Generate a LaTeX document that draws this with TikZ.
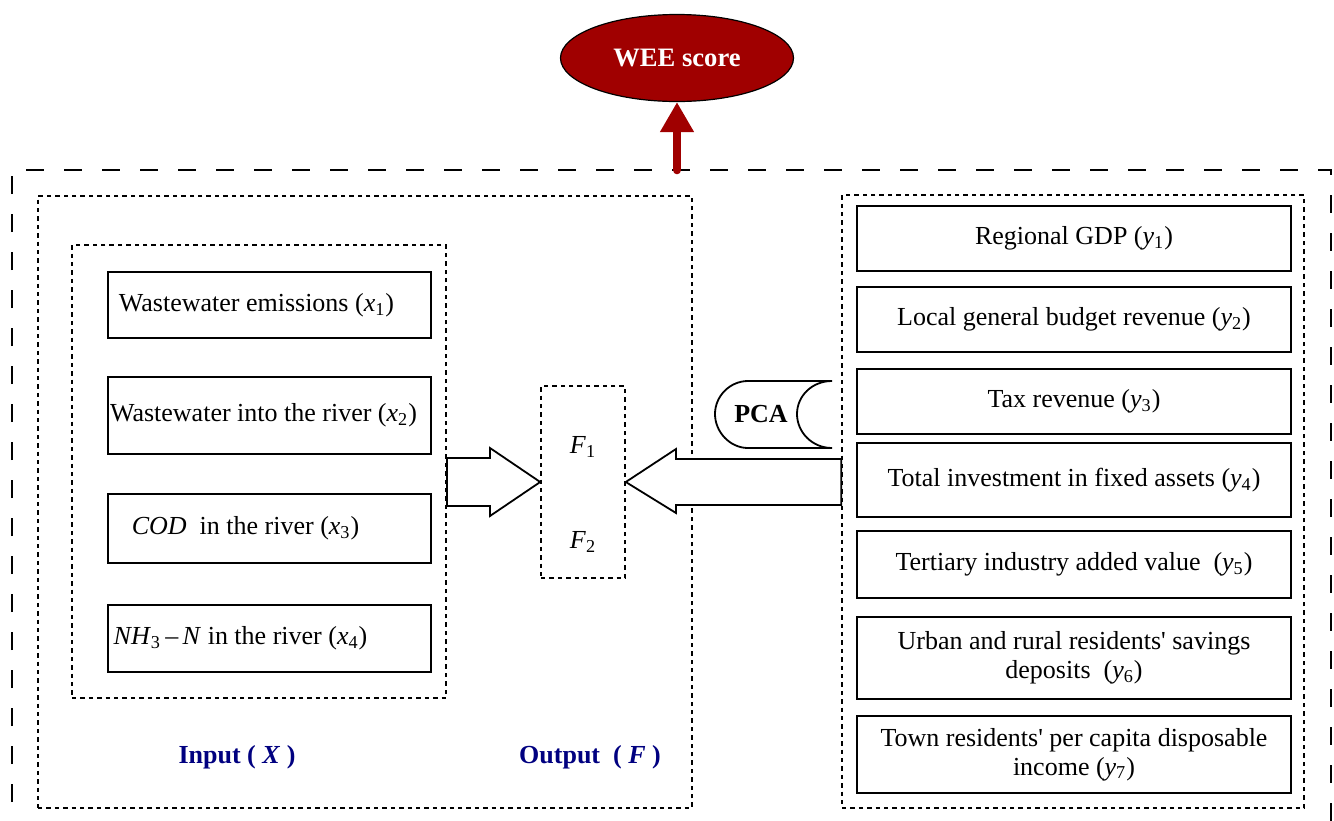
\documentclass[tikz,border=0pt]{standalone}
\usepackage{fontspec}
\setmainfont{Liberation Serif}
\usetikzlibrary{shapes.geometric,arrows.meta,calc}
\definecolor{weered}{RGB}{160,0,0}
\definecolor{lblue}{RGB}{0,0,128}
\newcommand\sv[2]{\textit{#1}\textsubscript{#2}}
\newcommand\shl[2]{\kern-#1#2\kern#1}
\begin{document}
\begin{tikzpicture}[x=0.5pt,y=-0.5pt,
  font=\fontsize{13}{14.5}\selectfont,
  box/.style={draw,line width=0.75pt,rectangle,inner sep=2pt},
  xbox/.style={box,minimum width=161.5pt},
  ybox/.style={box,minimum width=217pt,align=center},
  grp/.style={draw,line width=0.8pt,dash pattern=on 2.2pt off 2pt,rectangle,inner sep=0pt},
  outerline/.style={draw,line width=0.8pt,dash pattern=on 9pt off 10pt},
  blockarrow/.style={draw,line width=0.9pt,fill=white,line join=miter},
  lbl/.style={text=lblue,font=\fontsize{13}{15.5}\selectfont\bfseries}
  ]
\useasboundingbox (0,0) rectangle (1334,820);
\clip (0,0) rectangle (1334,820);

% outer dashed frame
\draw[outerline] (12,840) -- (12,170) -- (1331,170) -- (1331,840);

% WEE score
\node[ellipse,draw=black,line width=0.6pt,fill=weered,minimum width=116.5pt,minimum height=43.5pt,inner sep=0pt,
      text=white,font=\fontsize{13.3}{15.5}\selectfont\bfseries] (wee) at (677,58) {WEE score};
\coordinate (abase) at (677,170);
\draw[weered,line width=4.3pt,line cap=round,-{Triangle[width=16pt,length=15pt]}] (abase) -- (wee.south);

% groups
\node[grp,minimum width=327pt,minimum height=306pt] (leftgrp) at (365,502) {};
\node[grp,minimum width=187pt,minimum height=226.5pt] (inputgrp) at (259,471.5) {};
\node[grp,minimum width=231pt,minimum height=306.5pt] (rightgrp) at (1073,501.5) {};
\node[grp,minimum width=42pt,minimum height=96pt,align=center] (fbox) at (583,482)
  {\rule{0pt}{21pt}\sv{F}{1}\\[33pt]\sv{F}{2}};

% input boxes
\node[xbox,minimum height=33pt] (x1) at (269.5,305) {\shl{6.5pt}{Wastewater emissions (\sv{x}{1})}};
\node[xbox,minimum height=38.5pt] (x2) at (269.5,415.5) {\shl{3pt}{Wastewater into the river (\sv{x}{2})}};
\node[xbox,minimum height=34.5pt] (x3) at (269.5,528.5) {\shl{12pt}{\textit{COD}\ \ in the river (\sv{x}{3})}};
\node[xbox,minimum height=33.5pt] (x4) at (269.5,638.5) {\shl{14.5pt}{\sv{NH}{3}\,–\,\textit{N} in the river (\sv{x}{4})}};

% output boxes
\node[ybox,minimum height=32.5pt] (y1) at (1074,238.5) {Regional GDP (\sv{y}{1})};
\node[ybox,minimum height=32.5pt] (y2) at (1074,319.5) {Local general budget revenue (\sv{y}{2})};
\node[ybox,minimum height=32.5pt] (y3) at (1074,401.5) {Tax revenue (\sv{y}{3})};
\node[ybox,minimum height=37pt] (y4) at (1074,480) {Total investment in fixed assets (\sv{y}{4})};
\node[ybox,minimum height=33.5pt] (y5) at (1074,564.5) {Tertiary industry added value\ \ (\sv{y}{5})};
\node[ybox,minimum height=41pt] (y6) at (1074,658) {Urban and rural residents\textquotesingle\ savings\\deposits\ \ (\sv{y}{6})};
\node[ybox,minimum height=38.5pt] (y7) at (1074,754.5) {Town residents\textquotesingle\ per capita disposable\\income (\sv{y}{7})};

% block arrows
\draw[blockarrow] (447,458) -- (490,458) -- (490,448) -- (fbox.west) -- (490,516) -- (490,506) -- (447,506) -- cycle;
\draw[blockarrow] (rightgrp.west |- 0,459) -- (676,459) -- (676,449) -- (fbox.east) -- (676,513) -- (676,505) -- (rightgrp.west |- 0,505) -- cycle;

% PCA
\node[font=\fontsize{13}{15.5}\selectfont\bfseries] (pca) at (761,414) {PCA};
\draw[line width=0.9pt] (832,381) -- (748,381) .. controls (730,381) and (715,396) .. (715,414)
  .. controls (715,432) and (730,448) .. (748,448) -- (832,448)
  .. controls (812,448) and (797,432) .. (797,414) .. controls (797,396) and (812,381) .. (832,381);

% labels
\node[lbl] (inlbl) at (237,757) {Input ( \textit{X} )};
\node[lbl] (outlbl) at (590,757) {Output~ ( \textit{F} )};
\end{tikzpicture}
\end{document}
